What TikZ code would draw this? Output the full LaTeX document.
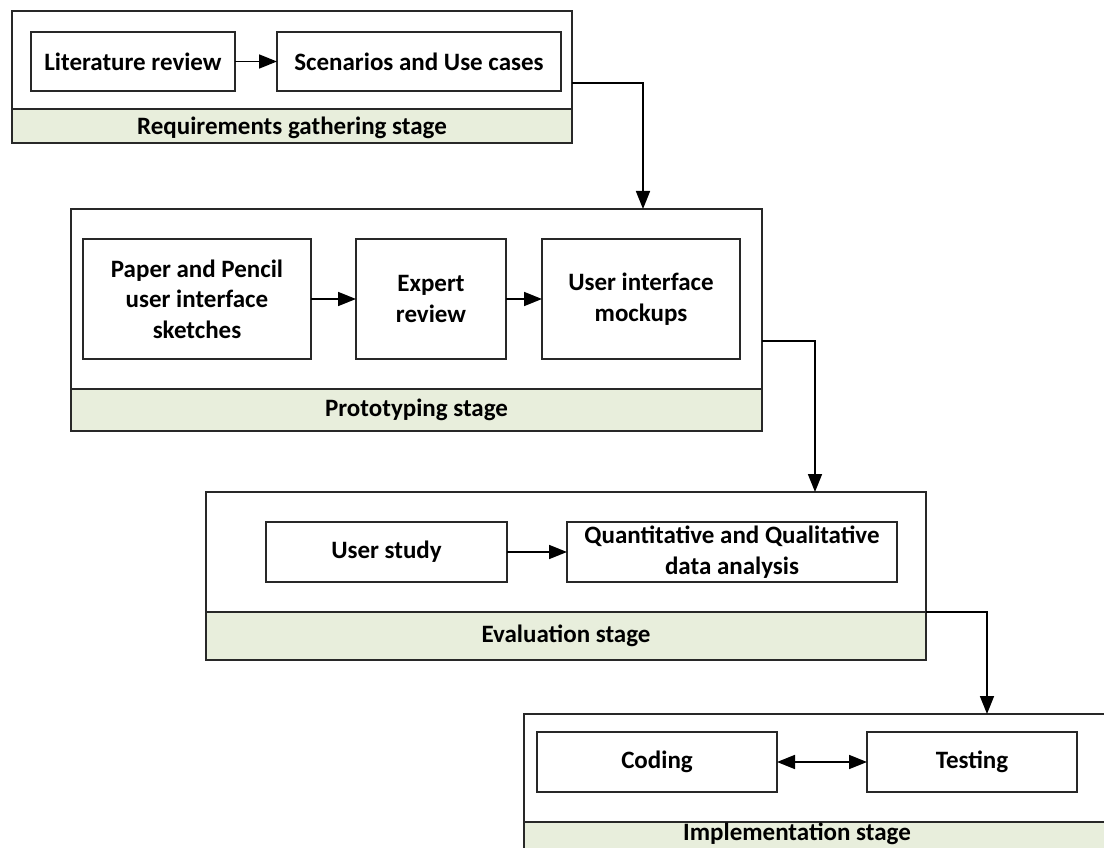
\documentclass[tikz,border=0pt]{standalone}
\usepackage{fontspec}
\setmainfont{Carlito}
\usetikzlibrary{arrows.meta}
\definecolor{barfill}{RGB}{232,238,220}
\definecolor{linec}{RGB}{40,40,40}
\begin{document}
\begin{tikzpicture}[x=1pt,y=-1pt,
  every node/.style={font=\fontsize{25}{30.5}\selectfont\bfseries, inner sep=0pt, outer sep=0pt, text=black},
  stagebox/.style={draw=linec, line width=1.7pt, fill=white, anchor=north west},
  barbox/.style={draw=linec, line width=1.7pt, fill=barfill, anchor=north west},
  itembox/.style={draw=linec, line width=1.7pt, fill=white, anchor=north west, align=center},
  arr/.style={draw=black, line width=1.7pt, -{Triangle[length=18pt,width=14pt]}},
  darr/.style={draw=black, line width=1.7pt, {Triangle[length=18pt,width=14pt]}-{Triangle[length=18pt,width=14pt]}}
]
\useasboundingbox (0,0) rectangle (1104,848);
\clip (0,0) rectangle (1104,848);
\fill[white] (0,0) rectangle (1104,848);

% Stage 1
\node[stagebox, minimum width=560pt, minimum height=132pt] (s1) at (12,11) {};
\node[barbox, minimum width=560pt, minimum height=34pt] (b1) at (12,109) {};
\node (b1t) at (292,128) {Requirements gathering stage};
\node[itembox, minimum width=204pt, minimum height=59pt] (lit) at (31,32) {Literature review};
\node[itembox, minimum width=284pt, minimum height=59pt] (scen) at (277,32) {Scenarios and Use cases};
\draw[arr] (lit) -- (scen);

% Stage 2
\node[stagebox, minimum width=691pt, minimum height=222pt] (s2) at (71,209) {};
\node[barbox, minimum width=691pt, minimum height=42pt] (b2) at (71,389) {Prototyping stage};
\node[itembox, minimum width=228pt, minimum height=120pt] (paper) at (83,239) {Paper and Pencil\\user interface\\sketches};
\node[itembox, minimum width=150pt, minimum height=120pt] (expert) at (356,239) {Expert\\review};
\node[itembox, minimum width=198pt, minimum height=120pt] (mock) at (542,239) {User interface\\mockups};
\draw[arr] (paper) -- (expert);
\draw[arr] (expert) -- (mock);

% Stage 3
\node[stagebox, minimum width=720pt, minimum height=168pt] (s3) at (206,492) {};
\node[barbox, minimum width=720pt, minimum height=48pt] (b3) at (206,612) {Evaluation stage};
\node[itembox, minimum width=241pt, minimum height=60pt] (user) at (266,522) {User study};
\node[itembox, minimum width=330pt, minimum height=60pt] (quant) at (567,522) {Quantitative and Qualitative\\data analysis};
\draw[arr] (user) -- (quant);

% Stage 4
\node[stagebox, minimum width=600pt, minimum height=160pt] (s4) at (524,714) {};
\node[barbox, minimum width=600pt, minimum height=48pt] (b4) at (524,822) {};
\node[anchor=center] (b4t) at (797,834) {Implementation stage};
\node[itembox, minimum width=240pt, minimum height=60pt] (coding) at (537,732) {Coding};
\node[itembox, minimum width=210pt, minimum height=60pt] (testing) at (867,732) {Testing};
\draw[darr] (coding) -- (testing);

% Connectors between stages
\coordinate (c1) at (643,83);
\coordinate (c2) at (815,341);
\coordinate (c3) at (987,612);
\draw[arr] (s1.east |- c1) -| (s2.north -| c1);
\draw[arr] (s2.east |- c2) -| (s3.north -| c2);
\draw[arr] (s3.east |- c3) -| (s4.north -| c3);
\end{tikzpicture}
\end{document}
